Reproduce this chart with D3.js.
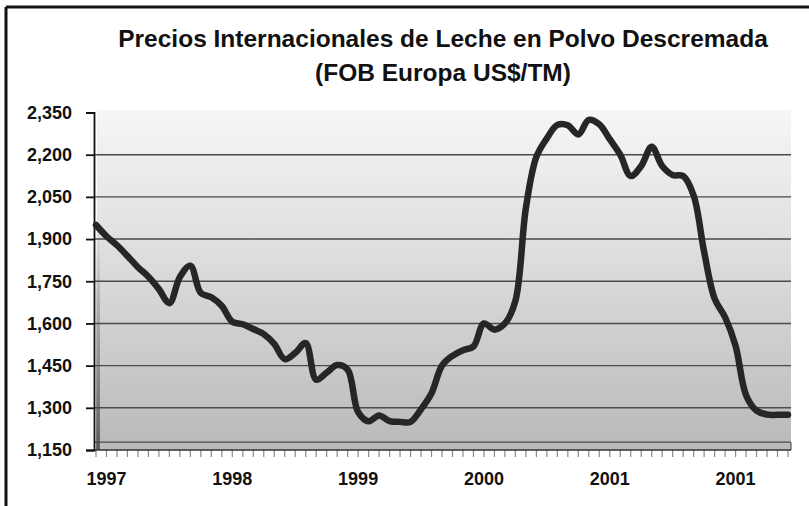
<!DOCTYPE html>
<html>
<head>
<meta charset="utf-8">
<script src="https://cdn.jsdelivr.net/npm/d3@7"></script>
<style>
  html, body { margin: 0; padding: 0; background: #fff; }
  svg { display: block; font-family: "Liberation Sans", Arial, sans-serif; }
</style>
</head>
<body>
<svg id="chart" width="809" height="506"></svg>
<script>
// Monthly categories, Jan 1997 .. Jul 2002
const months = d3.timeMonth.range(new Date(1997, 0, 1), new Date(2002, 7, 1));

// FOB Europe skim milk powder price, US$/TM
const prices = [
  1950, 1910, 1878, 1840, 1800, 1766, 1722, 1672, 1765, 1805, 1708, 1693,
  1662, 1606, 1597, 1580, 1562, 1527, 1473, 1495, 1530, 1400, 1425, 1452,
  1436, 1285, 1252, 1273, 1253, 1250, 1250, 1295, 1352, 1450, 1485, 1505,
  1518, 1600, 1578, 1600, 1680, 2010, 2192, 2258, 2306, 2305, 2272, 2324,
  2308, 2255, 2200, 2124, 2160, 2228, 2160, 2128, 2124, 2055, 1855, 1688,
  1622, 1520, 1345, 1290, 1276, 1275, 1275
];

const yTicks = [1150, 1300, 1450, 1600, 1750, 1900, 2050, 2200, 2350];
const gridValues = [1300, 1450, 1600, 1750, 1900, 2050, 2200];
const floorValue = 1178;   // extra rule just above the category axis

const yearLabels = ["1997", "1998", "1999", "2000", "2001", "2001"];
const yearLabelMonth = [1, 13, 25, 37, 49, 61];

const titleLines = [
  "Precios Internacionales de Leche en Polvo Descremada",
  "(FOB Europa US$/TM)"
];

// ---------------------------------------------------------------------------

const svg = d3.select("#chart");
const plot = { left: 95, right: 791, top: 110, bottom: 450 };

const x = d3.scalePoint().domain(months).range([96, 788]);
const y = d3.scaleLinear().domain([1150, 2350]).range([450, 112.5]);

// frame (top + left edge of the scanned page)
svg.append("line").attr("x1", 6).attr("x2", 809).attr("y1", 7).attr("y2", 7)
  .attr("stroke", "#111").attr("stroke-width", 3);
svg.append("line").attr("x1", 6).attr("x2", 6).attr("y1", 7).attr("y2", 506)
  .attr("stroke", "#111").attr("stroke-width", 3);

// plot background gradient
const defs = svg.append("defs");
const grad = defs.append("linearGradient").attr("id", "bg")
  .attr("x1", 0).attr("y1", 0).attr("x2", 0).attr("y2", 1);
grad.append("stop").attr("offset", "0%").attr("stop-color", "#f6f6f6");
grad.append("stop").attr("offset", "45%").attr("stop-color", "#dcdcdc");
grad.append("stop").attr("offset", "100%").attr("stop-color", "#b9b9b9");

const edge = defs.append("linearGradient").attr("id", "edge")
  .attr("x1", 0).attr("y1", 0).attr("x2", 0).attr("y2", 1);
edge.append("stop").attr("offset", "0%").attr("stop-color", "#888").attr("stop-opacity", 0);
edge.append("stop").attr("offset", "35%").attr("stop-color", "#777").attr("stop-opacity", 0.4);
edge.append("stop").attr("offset", "100%").attr("stop-color", "#444").attr("stop-opacity", 0.8);

svg.append("rect")
  .attr("x", plot.left + 2).attr("y", plot.top)
  .attr("width", plot.right - plot.left - 2).attr("height", plot.bottom - plot.top)
  .attr("fill", "url(#bg)");
svg.append("rect")
  .attr("x", plot.left + 1).attr("y", y(1950))
  .attr("width", 4).attr("height", plot.bottom - y(1950))
  .attr("fill", "url(#edge)");

// gridlines
svg.append("g")
  .selectAll("line")
  .data(gridValues.concat([floorValue]))
  .join("line")
  .attr("x1", plot.left).attr("x2", plot.right)
  .attr("y1", (d) => y(d)).attr("y2", (d) => y(d))
  .attr("stroke", "#4a4a4a").attr("stroke-width", 1.4);
svg.append("line")
  .attr("x1", plot.right).attr("x2", plot.right)
  .attr("y1", y(floorValue)).attr("y2", y(1150))
  .attr("stroke", "#555").attr("stroke-width", 1.2);

// category axis: monthly ticks
const xAxis = svg.append("g");
xAxis.selectAll("line")
  .data(months)
  .join("line")
  .attr("x1", (d) => x(d)).attr("x2", (d) => x(d))
  .attr("y1", y(1150)).attr("y2", y(1150) + 7)
  .attr("stroke", "#8a8a8a").attr("stroke-width", 1.2);
xAxis.append("line")
  .attr("x1", plot.left - 1).attr("x2", plot.right)
  .attr("y1", y(1150)).attr("y2", y(1150))
  .attr("stroke", "#333").attr("stroke-width", 1.6);

xAxis.selectAll("text")
  .data(yearLabels)
  .join("text")
  .attr("x", (d, i) => x(months[yearLabelMonth[i]]))
  .attr("y", 485)
  .attr("text-anchor", "middle")
  .attr("font-size", 18)
  .attr("font-weight", "bold")
  .attr("fill", "#111")
  .text((d) => d);

// value axis
const yAxis = d3.axisLeft(y)
  .tickValues(yTicks)
  .tickSize(8)
  .tickPadding(14)
  .tickFormat(d3.format(","));
svg.append("g")
  .attr("transform", `translate(${plot.left - 1},0)`)
  .call(yAxis)
  .call((g) => g.select(".domain").attr("stroke", "#111").attr("stroke-width", 1.8))
  .call((g) => g.selectAll(".tick line").attr("stroke", "#111").attr("stroke-width", 1.8))
  .call((g) => g.selectAll(".tick text")
    .attr("font-size", 18)
    .attr("font-weight", "bold")
    .attr("font-family", "Liberation Sans, Arial, sans-serif")
    .attr("fill", "#111"));

// price line
const line = d3.line()
  .x((d, i) => x(months[i]))
  .y((d) => y(d))
  .curve(d3.curveCatmullRom.alpha(0.5));

svg.append("path")
  .datum(prices)
  .attr("d", line)
  .attr("fill", "none")
  .attr("stroke", "#262626")
  .attr("stroke-width", 6.5)
  .attr("stroke-linejoin", "round")
  .attr("stroke-linecap", "round");

// title
svg.append("g")
  .selectAll("text")
  .data(titleLines)
  .join("text")
  .attr("x", 443)
  .attr("y", (d, i) => 47 + i * 34)
  .attr("text-anchor", "middle")
  .attr("font-size", 24.5)
  .attr("font-weight", "bold")
  .attr("fill", "#111")
  .text((d) => d);
</script>
</body>
</html>
